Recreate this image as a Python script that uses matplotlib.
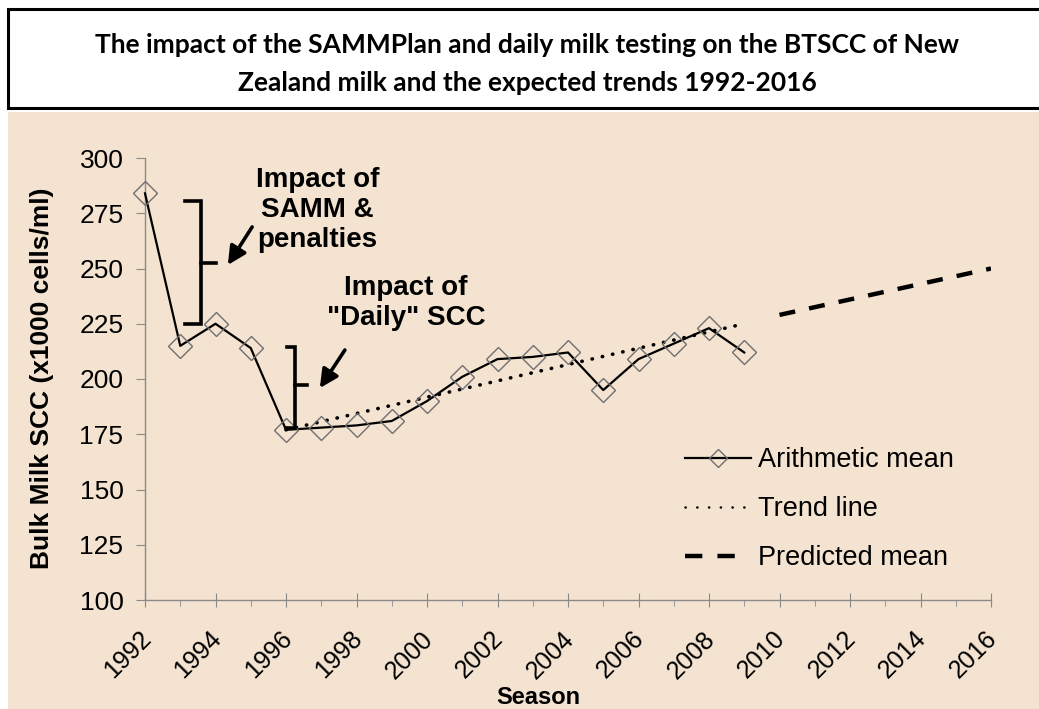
import matplotlib
matplotlib.use("Agg")
import matplotlib.pyplot as plt
import matplotlib.patches as patches
from matplotlib.lines import Line2D
from matplotlib.transforms import ScaledTranslation

# Arithmetic mean of bulk tank SCC by season
years = [1992, 1993, 1994, 1995, 1996, 1997, 1998, 1999, 2000,
         2001, 2002, 2003, 2004, 2005, 2006, 2007, 2008, 2009]
scc_mean = [284, 215, 225, 214, 177, 178, 179, 181, 190,
            201, 209, 210, 212, 195, 209, 216, 223, 212]

# linear trend 1996-2009 and predicted mean 2010-2016
trend_years = [1996, 2009]
trend_values = [177, 225]
pred_years = [2010, 2016]
pred_values = [229, 250]

title_lines = ["The impact of the SAMMPlan and daily milk testing on the BTSCC of New",
               "Zealand milk and the expected trends 1992-2016"]
legend_labels = ["Arithmetic mean", "Trend line", "Predicted mean"]

W, H = 1039, 709
BEIGE = "#F3E3D0"
GREY = "#8a8a8a"
plt.rcParams["font.family"] = ["Liberation Sans", "DejaVu Sans"]

fig = plt.figure(figsize=(W / 100, H / 100), dpi=100)
fig.patch.set_facecolor("white")

# background panel and title box (figure pixels)
def px(x, y):
    return x / W, 1 - y / H

fig.patches.append(patches.Rectangle(px(8, 709), (W - 8) / W, (709 - 112) / H,
                                     transform=fig.transFigure, facecolor=BEIGE,
                                     edgecolor="none", zorder=-10))
fig.patches.append(patches.Rectangle(px(8, 108), 1.2, 99 / H,
                                     transform=fig.transFigure, facecolor="white",
                                     edgecolor="black", linewidth=2.2, zorder=-10))
fig.text(*px(527, 45), title_lines[0], ha="center", va="center",
         fontsize=19, fontweight="bold", family=["Lato", "DejaVu Sans"])
fig.text(*px(527, 83), title_lines[1], ha="center", va="center",
         fontsize=19, fontweight="bold", family=["Lato", "DejaVu Sans"])

ax = fig.add_axes([145 / W, 1 - 600 / H, 846 / W, 442 / H])
ax.set_facecolor("none")

ax.plot(years, scc_mean, color="black", lw=1.6, marker="D", ms=12,
        mfc="none", mec="#707070", mew=1.0, zorder=3, clip_on=False)
ax.plot(trend_years, trend_values, color="black", lw=2.6,
        linestyle=(0, (0.1, 2.8)), dash_capstyle="round", zorder=2)
ax.plot(pred_years, pred_values, color="black", lw=3.2,
        linestyle=(0, (3.6, 3.2)), zorder=2)

ax.set_xlim(1992, 2016)
ax.set_ylim(100, 300)
ax.set_xticks(range(1992, 2017, 2))
ax.set_xticks(range(1992, 2017, 1), minor=True)
ax.set_yticks(range(100, 301, 25))

for s in ["top", "right"]:
    ax.spines[s].set_visible(False)
for s in ["left", "bottom"]:
    ax.spines[s].set_color(GREY)
    ax.spines[s].set_linewidth(1.0)

ax.tick_params(axis="y", direction="out", length=6.5, color=GREY, labelsize=19, pad=9)
ax.tick_params(axis="x", which="major", direction="inout", length=10, color=GREY,
               labelsize=18, pad=8)
ax.tick_params(axis="x", which="minor", direction="out", length=4, color=GREY)
for lab in ax.get_xticklabels():
    lab.set_rotation(45)
    lab.set_ha("right")
    lab.set_va("center")
    lab.set_rotation_mode("anchor")
    lab.set_transform(lab.get_transform() + ScaledTranslation(0.02, -0.17, fig.dpi_scale_trans))

fig.text(*px(42, 378), "Bulk Milk SCC (x1000 cells/ml)", rotation=90, ha="center",
         va="center", fontsize=19, fontweight="bold")
fig.text(*px(538, 697), "Season", ha="center", va="center", fontsize=17, fontweight="bold")

# brackets and arrows for the annotations
def bracket(x_left, x_mid, x_tick, y_top, y_bot, y_mid):
    ax.plot([x_left, x_mid, x_mid, x_left], [y_top, y_top, y_bot, y_bot],
            color="black", lw=2.6, solid_joinstyle="miter", zorder=4)
    ax.plot([x_mid, x_tick], [y_mid, y_mid], color="black", lw=2.6, zorder=4)

bracket(1993.13, 1993.6, 1994.0, 280.7, 224.9, 252.5)
bracket(1996.03, 1996.26, 1996.6, 214.5, 177.8, 197.3)

arrow = dict(arrowstyle="-|>,head_length=1.1,head_width=0.55", color="black", lw=2.6,
             shrinkA=0, shrinkB=0)
ax.annotate("", xy=(1994.35, 251.6), xytext=(1995.04, 268.8), arrowprops=arrow)
ax.annotate("", xy=(1996.96, 195.9), xytext=(1997.67, 213.1), arrowprops=arrow)

ax.text(1996.9, 276.5, "Impact of\nSAMM &\npenalties", ha="center", va="center",
        fontsize=20, fontweight="bold", linespacing=1.2)
ax.text(1999.4, 234.4, "Impact of\n\"Daily\" SCC", ha="center", va="center",
        fontsize=20, fontweight="bold", linespacing=1.2)

# legend samples drawn like the original (two dashes, small dots)
handles = [
    Line2D([], [], color="black", lw=1.6, marker="D", ms=9, mfc="none",
           mec="#707070", mew=1.0),
    Line2D([], [], color="black", lw=1.8, linestyle=(0, (0.1, 4.6)),
           dash_capstyle="round"),
    Line2D([], [], color="black", lw=3.2, linestyle=(0, (3.9, 3.4, 3.9, 10))),
]
ax.legend(handles, legend_labels, loc="upper left", bbox_to_anchor=px(685, 447),
          bbox_transform=fig.transFigure, frameon=False, fontsize=19.5,
          handlelength=2.44, handletextpad=0.26, labelspacing=0.85,
          borderpad=0, borderaxespad=0)

fig.savefig("out.png", dpi=100, facecolor=fig.get_facecolor())
